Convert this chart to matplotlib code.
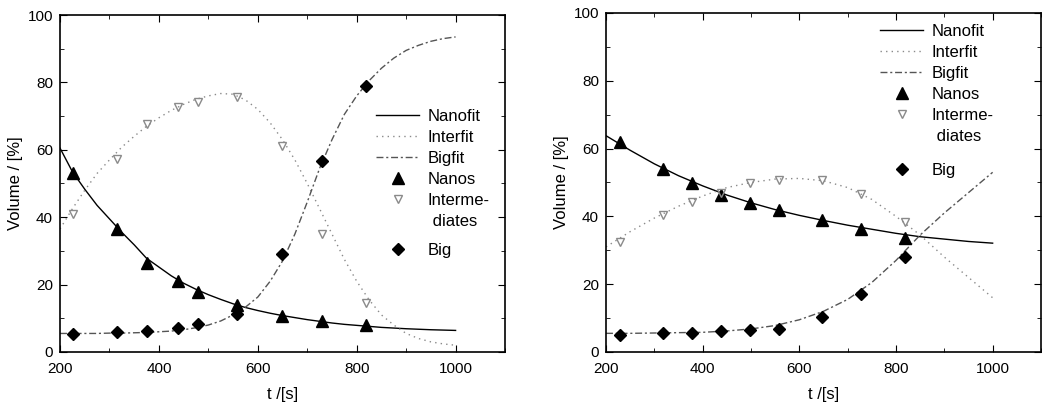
import numpy as np
import matplotlib
matplotlib.use("Agg")
import matplotlib.pyplot as plt
from matplotlib.lines import Line2D
from matplotlib.ticker import MultipleLocator

plt.rcParams['font.family'] = ['Liberation Sans', 'DejaVu Sans']

# dados medidos - painel esquerdo
t_a = [226, 316, 375, 438, 480, 558, 648, 729, 819]
nanos_a = [53, 36.5, 26.5, 21, 17.8, 13.8, 10.8, 9.2, 8.0]
inter_a = [41, 57.4, 67.6, 72.6, 74.3, 75.7, 61, 35, 14.5]
big_a = [5.4, 5.8, 6.1, 7.1, 8.4, 11.3, 29, 56.8, 79]

# curvas ajustadas (passo de 25 s) - painel esquerdo
tfit_a = [200, 225, 250, 275, 300, 325, 350, 375, 400, 425, 450, 475, 500, 525, 550, 575,
          600, 625, 650, 675, 700, 725, 750, 775, 800, 825, 850, 875, 900, 925, 950, 975, 1000]
nanofit_a = [60.5, 53.5, 48.3, 43.5, 39.5, 35.5, 31.8, 27.8, 25.2, 22.6, 20.4, 18.6, 17, 15.6, 14.3, 13.2,
             12.3, 11.5, 10.8, 10.2, 9.6, 9.1, 8.6, 8.2, 7.9, 7.6, 7.3, 7.1, 6.9, 6.75, 6.6, 6.5, 6.4]
interfit_a = [36.5, 42.5, 48, 53, 57, 60.8, 64, 67, 69.5, 71.7, 73.5, 75, 76, 76.7, 76.5, 74.8,
              72, 68, 63, 57, 50, 42.5, 35, 27.5, 21, 15.5, 11, 8, 5.5, 4, 3, 2.4, 2]
bigfit_a = [5.5, 5.5, 5.5, 5.5, 5.6, 5.6, 5.7, 5.8, 6, 6.2, 6.6, 7.2, 8, 9.2, 11, 13.3,
            16.3, 21, 27, 35, 44.5, 54.5, 63, 70.5, 76, 80.5, 84.2, 87.2, 89.5, 91, 92.2, 93, 93.5]

# dados medidos - painel direito
t_b = [228, 317, 377, 437, 497, 557, 647, 727, 819]
nanos_b = [62, 54.1, 49.7, 46.4, 44.0, 42.0, 38.8, 36.4, 33.7]
inter_b = [32.4, 40.3, 44.2, 46.9, 49.7, 50.8, 50.6, 46.7, 38.3]
big_b = [5.1, 5.6, 5.7, 6.1, 6.6, 6.9, 10.3, 17.0, 28.0]

# curvas ajustadas (passo de 50 s) - painel direito
tfit_b = [200, 250, 300, 350, 400, 450, 500, 550, 600, 650, 700, 750, 800, 850, 900, 950, 1000]
nanofit_b = [63.8, 59.5, 55.5, 52, 49, 46.3, 44, 42, 40.3, 38.8, 37.4, 36.2, 35, 34, 33.3, 32.6, 32.1]
interfit_b = [31, 35.5, 39.5, 43, 46, 48.5, 50, 51, 51.2, 50.5, 48.5, 45, 40, 34.5, 28, 22, 16]
bigfit_b = [5.5, 5.5, 5.6, 5.7, 5.8, 6.2, 6.8, 7.8, 9.5, 12, 15.5, 20.5, 27, 34.5, 41, 47, 53]

fig = plt.figure(figsize=(10.55, 4.08), dpi=100)
ax1 = fig.add_axes([0.0569, 0.1373, 0.4218, 0.8259])
ax2 = fig.add_axes([0.5744, 0.1373, 0.4123, 0.8309])

dashdot = (0, (5, 2, 1.5, 2))


def painel(ax, tf, t, nanos, inter, big, nf, itf, bf, leg_x, leg_y, gap):
    ax.plot(tf, nf, color='black', lw=1.0, label='Nanofit')
    ax.plot(tf, itf, color='#8a8a8a', lw=1.0, linestyle=(0, (1, 3)), label='Interfit')
    ax.plot(tf, bf, color='#555555', lw=1.0, linestyle=dashdot, label='Bigfit')
    ax.plot(t, nanos, '^', color='black', ms=8, label='Nanos')
    ax.plot(t, inter, 'v', mfc='none', mec='#8a8a8a', ms=6, mew=1.0, label='Interme-')
    ax.plot(t, big, 'D', color='black', ms=6, label='Big')

    ax.set_xlim(200, 1100)
    ax.set_ylim(0, 100)
    ax.xaxis.set_major_locator(MultipleLocator(200))
    ax.xaxis.set_minor_locator(MultipleLocator(100))
    ax.yaxis.set_major_locator(MultipleLocator(20))
    ax.yaxis.set_minor_locator(MultipleLocator(10))
    ax.tick_params(which='both', direction='in', top=True, right=True, labelsize=11)
    ax.tick_params(which='major', length=5)
    ax.tick_params(which='minor', length=3)
    ax.tick_params(axis='x', pad=7)
    ax.tick_params(axis='y', pad=5)
    ax.set_xticks([200, 400, 600, 800, 1000])
    ax.set_xlabel('t /[s]', fontsize=12, labelpad=8)
    ax.set_ylabel('Volume / [%]', fontsize=12, labelpad=3)
    for s in ax.spines.values():
        s.set_linewidth(1.2)

    # legenda em dois blocos para deixar o espaço antes de "Big"
    h, l = ax.get_legend_handles_labels()
    vazio = Line2D([], [], linestyle='none')
    kw = dict(frameon=False, fontsize=12, labelspacing=0.36, handlelength=2.6,
              handletextpad=0.5, borderpad=0, borderaxespad=0, loc='upper left')
    leg1 = ax.legend(h[:5] + [vazio], l[:5] + [' diates'],
                     bbox_to_anchor=(leg_x, leg_y), **kw)
    ax.add_artist(leg1)
    ax.legend([h[5]], [l[5]], bbox_to_anchor=(leg_x, leg_y - gap), **kw)


painel(ax1, tfit_a, t_a, nanos_a, inter_a, big_a, nanofit_a, interfit_a, bigfit_a, 0.71, 0.722, 0.398)
painel(ax2, tfit_b, t_b, nanos_b, inter_b, big_b, nanofit_b, interfit_b, bigfit_b, 0.63, 0.968, 0.41)

fig.savefig('out.png', dpi=100)
